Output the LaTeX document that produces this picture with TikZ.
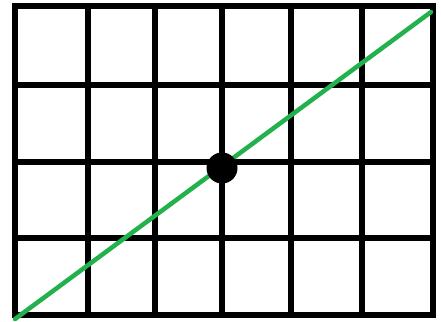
\documentclass[tikz,border=0pt]{standalone}
\definecolor{lineGreen}{RGB}{34,177,76}
\tikzset{gridline/.style={line width=6pt,black},
  greenline/.style={line width=4.5pt,lineGreen,line cap=round},
  bigdot/.style={circle,fill=black,inner sep=0pt,minimum size=31pt}}
\begin{document}
\begin{tikzpicture}[x=1pt,y=-1pt]
\useasboundingbox (0,0) rectangle (441,321);
\fill[white] (0,0) rectangle (441,321);
\foreach \x in {15,88,155,222,291,362,433} \draw[gridline] (\x,3) -- (\x,318);
\foreach \y in {6,85,162,238,315} \draw[gridline] (12,\y) -- (436,\y);
\coordinate (start) at (15,319);
\coordinate (end) at (431,12);
\draw[greenline] (start) -- (end);
\node[bigdot] (dot) at (222,168) {};
\end{tikzpicture}
\end{document}
